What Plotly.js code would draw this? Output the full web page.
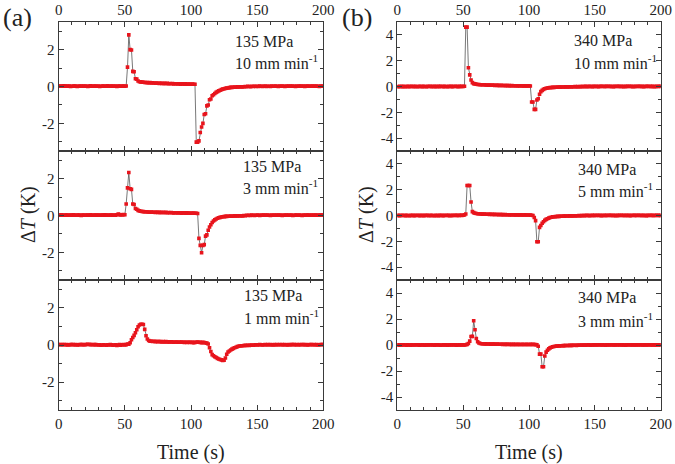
<!DOCTYPE html>
<html>
<head>
<meta charset="utf-8">
<script src="https://cdn.plot.ly/plotly-3.0.1.min.js"></script>
<style>html,body{margin:0;padding:0;background:#fff;}
#chart{width:675px;height:464px;}
#chart text{font-family:"Liberation Serif",serif !important;}</style>
</head>
<body>
<div id="chart"></div>
<script>
// Time (s), one sample per second
const time = [
0,1,2,3,4,5,6,7,8,9,10,11,12,13,14,15,16,17,18,19,
20,21,22,23,24,25,26,27,28,29,30,31,32,33,34,35,36,37,38,39,
40,41,42,43,44,45,46,47,48,49,50,51,52,53,54,55,56,57,58,59,
60,61,62,63,64,65,66,67,68,69,70,71,72,73,74,75,76,77,78,79,
80,81,82,83,84,85,86,87,88,89,90,91,92,93,94,95,96,97,98,99,
100,101,102,103,104,105,106,107,108,109,110,111,112,113,114,115,116,117,118,119,
120,121,122,123,124,125,126,127,128,129,130,131,132,133,134,135,136,137,138,139,
140,141,142,143,144,145,146,147,148,149,150,151,152,153,154,155,156,157,158,159,
160,161,162,163,164,165,166,167,168,169,170,171,172,173,174,175,176,177,178,179,
180,181,182,183,184,185,186,187,188,189,190,191,192,193,194,195,196,197,198,199,200];

// (a) 135 MPa, 10 mm/min
const dT_a1 = [
0.02,0.03,0.01,0.02,0.04,0.02,0.01,0.03,0.02,0.00,
0.01,0.03,0.02,0.02,0.00,0.01,0.03,0.02,0.01,0.02,
0.03,0.01,0.00,0.02,0.04,0.02,0.01,0.03,0.02,0.01,
0.02,0.00,0.01,0.03,0.02,0.01,0.02,0.04,0.02,0.01,
0.03,0.02,0.01,0.02,0.00,0.02,0.03,0.01,0.02,0.02,
0.01,0.03,1.05,2.80,2.00,1.98,0.82,0.80,0.42,0.40,
0.30,0.26,0.25,0.24,0.23,0.22,0.22,0.21,0.20,0.21,
0.19,0.20,0.19,0.18,0.19,0.18,0.17,0.18,0.17,0.16,
0.17,0.16,0.17,0.15,0.16,0.15,0.16,0.14,0.15,0.15,
0.14,0.15,0.13,0.14,0.14,0.13,0.14,0.12,0.13,0.13,
0.12,0.13,0.12,0.12,-3.02,-3.02,-2.95,-2.50,-2.20,-2.00,
-1.52,-1.48,-1.05,-1.00,-0.72,-0.68,-0.50,-0.45,-0.38,-0.32,
-0.28,-0.24,-0.20,-0.17,-0.14,-0.12,-0.10,-0.09,-0.08,-0.06,
-0.05,-0.05,-0.04,-0.03,-0.04,-0.02,-0.03,-0.02,-0.01,-0.02,
-0.01,0.00,-0.01,0.01,0.00,-0.01,0.01,0.00,0.01,0.00,
0.01,0.00,0.02,0.01,0.00,0.01,0.02,0.00,0.01,0.01,
0.00,0.02,0.01,0.01,0.03,0.01,0.00,0.02,0.01,0.02,
0.01,0.00,0.02,0.01,0.02,0.03,0.01,0.02,0.01,0.00,
0.02,0.01,0.03,0.02,0.01,0.02,0.00,0.02,0.03,0.01,
0.02,0.01,0.02,0.03,0.01,0.02,0.01,0.00,0.02,0.01,0.02];

// (a) 135 MPa, 3 mm/min
const dT_a2 = [
0.03,0.02,0.04,0.02,0.01,0.03,0.02,0.03,0.01,0.02,
0.02,0.04,0.02,0.01,0.03,0.02,0.02,0.00,0.02,0.03,
0.01,0.02,0.03,0.02,0.04,0.02,0.01,0.02,0.03,0.02,
0.02,0.01,0.03,0.02,0.02,0.04,0.02,0.01,0.03,0.02,
0.02,0.03,0.01,0.02,0.04,0.08,0.05,0.03,0.04,0.05,
0.04,0.62,1.50,2.33,1.45,1.42,0.62,0.60,0.38,0.34,
0.28,0.25,0.23,0.22,0.21,0.20,0.20,0.19,0.19,0.18,
0.19,0.18,0.18,0.17,0.18,0.17,0.17,0.16,0.17,0.16,
0.16,0.17,0.15,0.16,0.15,0.16,0.15,0.14,0.15,0.15,
0.14,0.15,0.14,0.13,0.14,0.14,0.13,0.14,0.13,0.12,
0.13,0.12,0.13,0.12,0.12,0.11,-1.24,-1.62,-2.02,-1.62,
-1.58,-1.12,-1.05,-0.80,-0.62,-0.50,-0.38,-0.30,-0.24,-0.19,
-0.15,-0.12,-0.10,-0.08,-0.07,-0.06,-0.05,-0.05,-0.04,-0.04,
-0.03,-0.04,-0.03,-0.02,-0.03,-0.02,-0.01,-0.02,-0.01,-0.02,
0.00,-0.01,0.01,0.00,0.01,0.00,0.02,0.01,0.00,0.01,
0.02,0.01,0.00,0.02,0.01,0.02,0.03,0.01,0.02,0.01,
0.00,0.02,0.01,0.02,0.01,0.03,0.02,0.01,0.02,0.00,
0.01,0.02,0.03,0.01,0.02,0.01,0.02,0.00,0.01,0.02,
0.03,0.01,0.02,0.01,0.00,0.02,0.01,0.02,0.03,0.02,
0.01,0.02,0.01,0.03,0.02,0.01,0.02,0.01,0.02,0.03,0.02];

// (a) 135 MPa, 1 mm/min
const dT_a3 = [
0.02,0.03,0.01,0.02,0.03,0.01,0.02,0.00,0.01,0.02,
0.03,0.02,0.01,0.02,0.00,0.01,0.02,0.03,0.02,0.01,
0.02,0.03,0.04,0.03,0.02,0.03,0.01,0.02,0.02,0.01,
0.00,0.01,-0.01,0.00,0.01,0.00,-0.01,0.01,0.00,0.02,
0.01,-0.01,0.00,0.01,-0.02,0.00,0.02,-0.01,0.01,0.03,
0.00,0.02,0.05,0.04,0.12,0.28,0.40,0.52,0.66,0.82,
0.98,1.08,1.12,1.12,1.10,0.84,0.50,0.32,0.24,0.21,
0.20,0.19,0.20,0.18,0.19,0.18,0.19,0.18,0.17,0.18,
0.17,0.18,0.16,0.17,0.16,0.17,0.16,0.15,0.16,0.16,
0.15,0.16,0.15,0.16,0.15,0.14,0.15,0.14,0.15,0.14,
0.15,0.14,0.13,0.14,0.15,0.16,0.15,0.14,0.13,0.14,
0.13,0.12,0.10,0.05,-0.15,-0.35,-0.52,-0.58,-0.63,-0.67,
-0.72,-0.75,-0.78,-0.80,-0.83,-0.82,-0.70,-0.50,-0.38,-0.32,
-0.27,-0.22,-0.18,-0.15,-0.12,-0.09,-0.07,-0.05,-0.04,-0.04,
-0.03,-0.02,-0.03,-0.01,-0.02,-0.01,0.00,-0.01,0.00,0.01,
0.00,0.01,0.02,0.01,0.00,0.01,0.02,0.01,0.02,0.01,
0.02,0.01,0.00,0.02,0.01,0.02,0.01,0.03,0.01,0.02,
0.01,0.02,0.01,0.00,0.02,0.01,0.02,0.03,0.02,0.01,
0.02,0.01,0.02,0.01,0.03,0.02,0.01,0.02,0.00,0.01,
0.02,0.03,0.01,0.02,0.01,0.02,0.00,0.01,0.02,0.03,0.02];

// (b) 340 MPa, 10 mm/min
const dT_b1 = [
0.00,-0.02,0.01,0.00,-0.01,0.01,-0.02,0.00,0.01,-0.01,
0.00,0.02,-0.01,0.00,0.01,-0.02,0.00,0.01,0.00,-0.01,
0.01,0.00,-0.02,0.01,0.00,0.02,-0.01,0.00,0.01,-0.01,
0.00,0.01,-0.01,0.02,0.00,-0.01,0.01,0.00,-0.02,0.01,
0.00,0.01,-0.01,0.00,0.02,0.00,-0.01,0.01,0.00,0.01,
0.00,0.02,4.60,4.60,1.45,0.90,0.50,0.30,0.22,0.20,
0.18,0.16,0.15,0.14,0.14,0.13,0.13,0.12,0.12,0.11,
0.11,0.10,0.11,0.10,0.09,0.10,0.09,0.09,0.08,0.09,
0.08,0.08,0.07,0.08,0.07,0.07,0.06,0.07,0.06,0.06,
0.06,0.05,0.06,0.05,0.06,0.05,0.05,0.04,0.05,0.05,
0.05,0.04,-1.20,-1.20,-1.77,-1.77,-1.05,-0.95,-0.60,-0.40,
-0.30,-0.22,-0.17,-0.14,-0.12,-0.10,-0.09,-0.08,-0.07,-0.07,
-0.06,-0.06,-0.05,-0.05,-0.05,-0.04,-0.04,-0.04,-0.03,-0.03,
-0.03,-0.02,-0.03,-0.02,-0.02,-0.01,-0.02,-0.01,-0.02,-0.01,
0.00,-0.01,0.00,0.01,-0.01,0.00,0.01,0.00,-0.01,0.01,
0.00,0.01,0.00,-0.01,0.01,0.02,0.00,0.01,0.00,0.01,
0.02,0.00,0.01,0.00,-0.01,0.01,0.00,0.02,0.01,0.00,
0.01,0.00,-0.01,0.01,0.00,0.01,0.02,0.00,0.01,-0.01,
0.00,0.01,0.00,0.02,0.01,0.00,0.01,-0.01,0.00,0.01,
0.02,0.00,0.01,0.00,0.01,-0.01,0.00,0.01,0.00,0.02,0.01];

// (b) 340 MPa, 5 mm/min
const dT_b2 = [
0.00,0.01,-0.01,0.00,0.02,0.00,-0.01,0.01,0.00,-0.02,
0.01,0.00,0.01,-0.01,0.00,0.02,0.00,-0.01,0.01,0.00,
-0.01,0.01,0.00,0.02,-0.01,0.00,0.01,0.00,-0.02,0.01,
0.00,-0.01,0.01,0.00,0.01,-0.01,0.00,0.02,0.00,0.01,
-0.01,0.00,0.01,0.00,0.02,0.01,0.00,0.01,0.02,0.01,
0.02,0.05,0.12,2.33,2.33,2.33,1.05,0.30,0.22,0.18,
0.15,0.14,0.13,0.12,0.12,0.11,0.11,0.10,0.10,0.10,
0.09,0.10,0.09,0.08,0.09,0.08,0.08,0.07,0.08,0.07,
0.07,0.06,0.07,0.06,0.06,0.05,0.06,0.05,0.06,0.05,
0.05,0.04,0.05,0.04,0.05,0.04,0.04,0.05,0.04,0.04,
0.04,0.03,0.02,0.00,-0.15,-0.40,-2.03,-2.03,-0.92,-0.78,
-0.60,-0.48,-0.38,-0.30,-0.25,-0.20,-0.16,-0.13,-0.11,-0.10,
-0.09,-0.08,-0.07,-0.07,-0.06,-0.06,-0.05,-0.05,-0.04,-0.04,
-0.04,-0.03,-0.03,-0.03,-0.02,-0.03,-0.02,-0.02,-0.01,-0.02,
-0.01,0.00,-0.01,0.00,0.01,0.00,-0.01,0.00,0.01,0.00,
0.01,0.00,0.02,0.00,0.01,-0.01,0.00,0.01,0.00,0.01,
0.00,0.02,0.01,0.00,0.01,0.00,-0.01,0.01,0.00,0.01,
0.02,0.00,0.01,0.00,0.01,0.00,0.01,-0.01,0.00,0.02,
0.01,0.00,0.01,0.02,0.00,0.01,0.00,0.01,0.00,-0.01,
0.01,0.00,0.02,0.01,0.00,0.01,0.00,0.02,0.01,0.00,0.01];

// (b) 340 MPa, 3 mm/min
const dT_b3 = [
0.01,0.00,-0.01,0.01,0.00,0.02,0.00,-0.01,0.01,0.00,
-0.01,0.01,0.00,0.00,0.02,0.00,0.01,-0.01,0.00,0.01,
0.00,-0.01,0.01,0.00,0.01,0.00,0.02,0.00,-0.01,0.01,
0.00,0.01,0.00,-0.02,0.00,0.01,0.00,0.01,-0.01,0.00,
0.01,0.00,0.02,0.00,0.01,-0.01,0.00,0.01,0.00,0.01,
0.00,0.01,0.02,0.05,0.12,0.30,0.65,0.66,1.86,1.17,
0.50,0.25,0.15,0.12,0.10,0.10,0.09,0.09,0.08,0.08,
0.08,0.07,0.08,0.07,0.07,0.06,0.07,0.06,0.06,0.06,
0.05,0.06,0.05,0.05,0.06,0.05,0.04,0.05,0.05,0.04,
0.05,0.04,0.05,0.04,0.04,0.05,0.04,0.04,0.05,0.04,
0.04,0.05,0.04,0.05,0.04,0.03,0.02,-0.10,-0.70,-0.70,
-1.67,-1.67,-0.85,-0.55,-0.40,-0.30,-0.22,-0.17,-0.13,-0.11,
-0.10,-0.09,-0.08,-0.07,-0.06,-0.06,-0.05,-0.05,-0.04,-0.04,
-0.04,-0.03,-0.03,-0.03,-0.02,-0.02,-0.03,-0.02,-0.01,-0.02,
-0.01,-0.01,0.00,-0.01,0.00,0.01,0.00,-0.01,0.00,0.01,
0.00,0.01,0.00,0.02,0.01,0.00,0.01,0.00,-0.01,0.01,
0.00,0.01,0.02,0.00,0.01,0.00,0.01,0.00,0.02,0.01,
0.00,0.01,0.00,-0.01,0.01,0.00,0.02,0.01,0.00,0.01,
0.00,0.01,0.00,0.01,0.02,0.00,0.01,0.00,0.01,0.00,
0.01,0.02,0.00,0.01,0.00,0.01,0.00,0.01,0.02,0.00,0.01];

const seriesA = [dT_a1, dT_a2, dT_a3];
const seriesB = [dT_b1, dT_b2, dT_b3];
const labelsA = [["135 MPa", "10 mm min<sup>-1</sup>"], ["135 MPa", "3 mm min<sup>-1</sup>"], ["135 MPa", "1 mm min<sup>-1</sup>"]];
const labelsB = [["340 MPa", "10 mm min<sup>-1</sup>"], ["340 MPa", "5 mm min<sup>-1</sup>"], ["340 MPa", "3 mm min<sup>-1</sup>"]];
const xTicks = [0, 50, 100, 150, 200];
const yTicksA = [-2, 0, 2];
const yTicksB = [-4, -2, 0, 2, 4];

const SERIF = "Liberation Serif";
const LINE = "#3a3a3a";
const RED = "#e8141c";

const traces = [];
function addTrace(y, idx) {
  traces.push({
    x: time, y: y, type: "scatter", mode: "lines+markers",
    xaxis: "x" + (idx === 1 ? "" : idx), yaxis: "y" + (idx === 1 ? "" : idx),
    line: {color: "#555", width: 0.8},
    marker: {symbol: "square", size: 3.6, color: RED, line: {width: 0}},
    showlegend: false, hoverinfo: "skip"
  });
}
seriesA.forEach((s, i) => addTrace(s, i + 1));
seriesB.forEach((s, i) => addTrace(s, i + 4));

const W = 675, H = 464;
const colX = [[58.7 / W, 323.3 / W], [397.3 / W, 660.7 / W]];
const rowY = [[22, 151], [151, 280], [280, 410]].map(r => [(H - r[1]) / H, (H - r[0]) / H]);

const layout = {
  width: W, height: H, margin: {l: 0, r: 0, t: 0, b: 0},
  font: {family: SERIF, size: 15, color: "#222"},
  showlegend: false,
  annotations: []
};

function xAxis(col, row) {
  const n = col * 3 + row + 1;
  return {
    domain: colX[col], anchor: "y" + (n === 1 ? "" : n),
    range: [0, 200], tickmode: "array", tickvals: xTicks, ticktext: xTicks.map(String),
    ticks: "inside", ticklen: 5, tickwidth: 1, tickcolor: LINE,
    minor: {tickmode: "linear", tick0: 0, dtick: 10, ticks: "inside", ticklen: 3, tickwidth: 1, tickcolor: LINE},
    showline: true, linecolor: LINE, linewidth: 1.2, mirror: "allticks",
    showgrid: false, zeroline: false,
    side: row === 0 ? "top" : "bottom",
    showticklabels: row !== 1,
    tickfont: {family: SERIF, size: 15, color: "#222"}
  };
}
function yAxis(col, row) {
  const ticks = col === 0 ? yTicksA : yTicksB;
  const lim = col === 0 ? 3.5 : 5;
  const n = col * 3 + row + 1;
  return {
    domain: rowY[row], anchor: "x" + (n === 1 ? "" : n),
    range: [-lim, lim], tickmode: "array", tickvals: ticks, ticktext: ticks.map(String),
    ticks: "inside", ticklen: 5, tickwidth: 1, tickcolor: LINE,
    minor: {tickmode: "linear", tick0: 0, dtick: 1, ticks: "inside", ticklen: 3, tickwidth: 1, tickcolor: LINE},
    showline: true, linecolor: LINE, linewidth: 1.2, mirror: "allticks",
    showgrid: false, zeroline: false,
    tickfont: {family: SERIF, size: 15, color: "#222"}
  };
}
for (let c = 0; c < 2; c++) {
  for (let r = 0; r < 3; r++) {
    const n = c * 3 + r + 1;
    const sfx = n === 1 ? "" : n;
    layout["xaxis" + sfx] = xAxis(c, r);
    layout["yaxis" + sfx] = yAxis(c, r);
  }
}

// panel condition labels
const labPosA = [[132, 2.46, 1.32], [137.5, 2.66, 1.54], [138.5, 2.66, 1.49]];
const labPosB = [[133, 3.55, 1.92], [136, 3.58, 1.98], [136, 3.62, 1.94]];
function addLabels(labels, pos, offset) {
  labels.forEach((lab, i) => {
    const n = offset + i + 1;
    const sfx = n === 1 ? "" : n;
    [0, 1].forEach(k => {
      layout.annotations.push({
        xref: "x" + sfx, yref: "y" + sfx, x: pos[i][0], y: pos[i][k + 1],
        xanchor: "left", yanchor: "middle", showarrow: false,
        text: lab[k], font: {family: SERIF, size: 16, color: "#222"}
      });
    });
  });
}
addLabels(labelsA, labPosA, 0);
addLabels(labelsB, labPosB, 3);

// axis titles and panel letters
const paperNotes = [
  {x: 28 / W, y: 1 - 215 / H, text: "Δ<i>T</i> (K)", angle: -90, size: 20},
  {x: 366 / W, y: 1 - 215 / H, text: "Δ<i>T</i> (K)", angle: -90, size: 20},
  {x: 191 / W, y: 1 - 452 / H, text: "Time (s)", angle: 0, size: 20},
  {x: 529 / W, y: 1 - 452 / H, text: "Time (s)", angle: 0, size: 20},
  {x: 17 / W, y: 1 - 17 / H, text: "(a)", angle: 0, size: 26},
  {x: 357 / W, y: 1 - 17 / H, text: "(b)", angle: 0, size: 26}
];
paperNotes.forEach(p => layout.annotations.push({
  xref: "paper", yref: "paper", x: p.x, y: p.y, xanchor: "center", yanchor: "middle",
  showarrow: false, text: p.text, textangle: p.angle,
  font: {family: SERIF, size: p.size, color: "#222"}
}));

function draw() {
  return Plotly.newPlot("chart", traces, layout, {displayModeBar: false}).then(() => {
    document.querySelectorAll("#chart text").forEach(t => { t.style.fontFamily = '"Liberation Serif", serif'; });
  });
}
if (document.fonts && document.fonts.load) {
  document.fonts.load('15px "Liberation Serif"').then(draw, draw);
} else {
  draw();
}
</script>
</body>
</html>
